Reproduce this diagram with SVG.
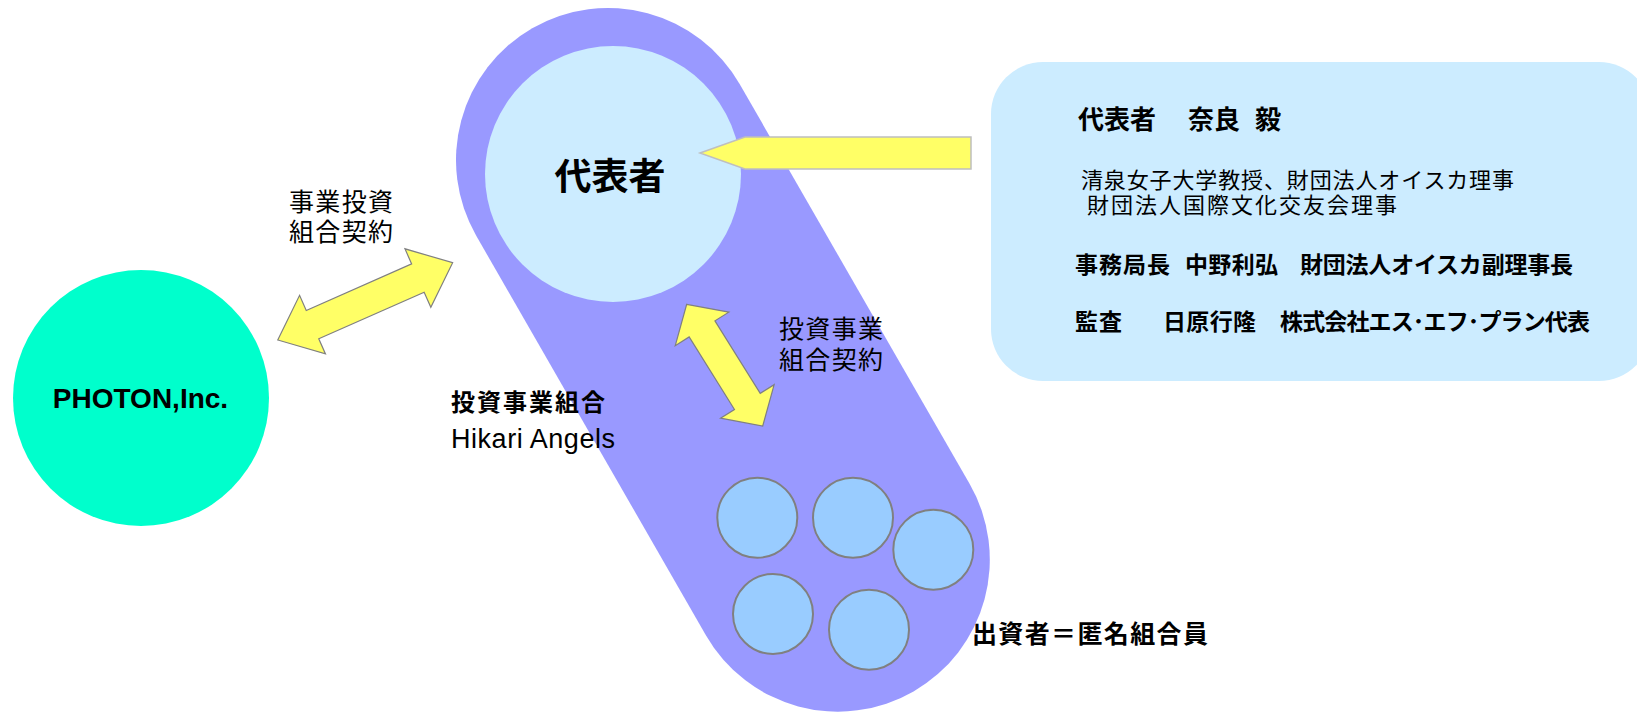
<svg xmlns="http://www.w3.org/2000/svg" width="1637" height="713" viewBox="0 0 1637 713">
<style>
text{font-family:"Liberation Sans","Noto Sans CJK JP",sans-serif;fill:#000}
.b{font-weight:bold}
.arrow{fill:#FFFF66;stroke:#808080;stroke-width:1.2}
.member{fill:#99CCFF;stroke:#808080;stroke-width:2}
</style>
<rect width="1637" height="713" fill="#FFFFFF"/>
<g id="fund">
<rect x="-152" y="-152" width="765" height="304" rx="152" fill="#9999FF" transform="translate(608,160) rotate(60.1)"/>
<text class="b" x="451" y="411" font-size="24" textLength="154">投資事業組合</text>
<text x="451" y="448" font-size="27" textLength="164">Hikari Angels</text>
</g>
<g id="representative">
<circle cx="613" cy="174" r="128" fill="#CCECFF"/>
<text class="b" x="610" y="190" font-size="37" text-anchor="middle">代表者</text>
</g>
<g id="photon">
<circle cx="141" cy="398" r="128" fill="#00FFCC"/>
<text class="b" x="140.5" y="408" font-size="28" text-anchor="middle">PHOTON,Inc.</text>
</g>
<g id="members">
<circle class="member" cx="757.3" cy="517.7" r="40"/>
<circle class="member" cx="853" cy="517.7" r="40"/>
<circle class="member" cx="933.3" cy="549.7" r="40"/>
<circle class="member" cx="773" cy="614" r="40"/>
<circle class="member" cx="869" cy="629.7" r="40"/>
<text class="b" x="972" y="643" font-size="25" textLength="236">出資者＝匿名組合員</text>
</g>
<g id="info">
<rect x="991" y="62" width="660" height="319" rx="52" fill="#CCECFF"/>
<text class="b" x="1078" y="129" font-size="26">代表者</text>
<text class="b" x="1188" y="129" font-size="26">奈良</text>
<text class="b" x="1255" y="129" font-size="26">毅</text>
<text x="1081" y="188" font-size="22" textLength="433">清泉女子大学教授、財団法人オイスカ理事</text>
<text x="1087" y="213" font-size="22" textLength="310">財団法人国際文化交友会理事</text>
<text class="b" x="1075" y="273" font-size="23" textLength="95">事務局長</text>
<text class="b" x="1185" y="273" font-size="23" textLength="93">中野利弘</text>
<text class="b" x="1300" y="273" font-size="23" textLength="273">財団法人オイスカ副理事長</text>
<text class="b" x="1075" y="330" font-size="23" textLength="47">監査</text>
<text class="b" x="1163" y="330" font-size="23" textLength="93">日原行隆</text>
<text class="b" x="1280" y="330" font-size="23" textLength="310">株式会社エス･エフ･プラン代表</text>
</g>
<g id="connectors">
<g id="contract-photon">
<polygon class="arrow" points="-95.6,0 -57.6,-32 -57.6,-15.5 57.6,-15.5 57.6,-32 95.6,0 57.6,32 57.6,15.5 -57.6,15.5 -57.6,32" transform="translate(365.2,301.35) rotate(-23.83)"/>
<text x="289" y="211" font-size="25" textLength="104">事業投資</text>
<text x="289" y="241" font-size="25" textLength="104">組合契約</text>
</g>
<g id="contract-members">
<polygon class="arrow" points="-71.75,0 -42.75,-31.6 -42.75,-15.2 42.75,-15.2 42.75,-31.6 71.75,0 42.75,31.6 42.75,15.2 -42.75,15.2 -42.75,31.6" transform="translate(724.7,365.15) rotate(58)"/>
<text x="779" y="338" font-size="25" textLength="104">投資事業</text>
<text x="779" y="369" font-size="25" textLength="104">組合契約</text>
</g>
<polygon id="info-pointer" points="700,153 745,137 971,137 971,169 745,169" fill="#FFFF66" stroke="#BFBFBF" stroke-width="1.5"/>
</g>
</svg>
